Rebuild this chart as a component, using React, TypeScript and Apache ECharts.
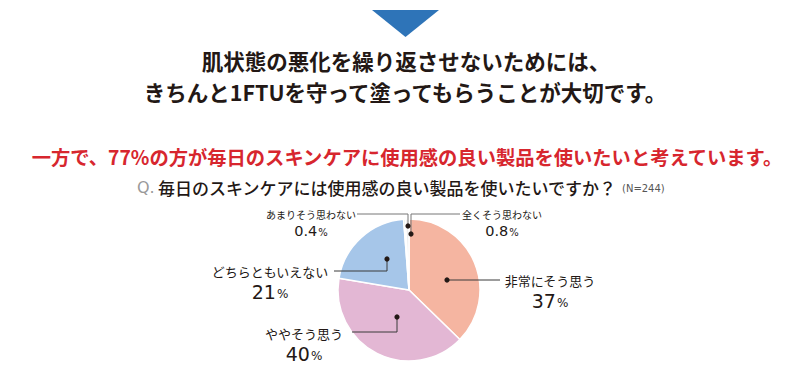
import React, { useEffect, useRef } from "react";
import * as echarts from "echarts";

const categories = ["非常にそう思う", "ややそう思う", "どちらともいえない", "あまりそう思わない", "全くそう思わない"];
const percentages = [37, 40, 21, 0.4, 0.8];
const sliceColors = ["#f5b5a1", "#e3b7d4", "#a6c6e9", "#b5dcbd", "#eeeeee"];

const titleLine1 = "肌状態の悪化を繰り返させないためには、";
const titleLine2 = "きちんと1FTUを守って塗ってもらうことが大切です。";
const redLine = "一方で、77%の方が毎日のスキンケアに使用感の良い製品を使いたいと考えています。";
const questionPrefix = "Q.";
const questionText = "毎日のスキンケアには使用感の良い製品を使いたいですか？";
const sampleNote = "(N=244)";

// label layout: [labelCenterX, labelTopY, dotX, dotY, bendX, bendY, endX, endY]
const labelLayouts = [
  [550, 270, 447, 280, 447, 280, 500, 280],
  [304, 323, 397, 317, 397, 332, 352, 332],
  [270, 261, 387, 259, 387, 271, 334, 271],
  [311, 206, 408, 226, 408, 214, 357, 214],
  [502, 206, 411, 234, 411, 214, 460, 214],
];
const leaderColors = ["#3a3a3a", "#3a3a3a", "#3a3a3a", "#777777", "#777777"];

const JP = '"Noto Sans CJK JP", "Noto Sans", sans-serif';
const NUM = '"DejaVu Sans", "Liberation Sans", sans-serif';

export default function App() {
  const ref = useRef<HTMLDivElement>(null);
  useEffect(() => {
    document.body.style.margin = "0";
    const chart = echarts.init(ref.current!, null, { renderer: "svg" });
    const leaders = labelLayouts.map((l, i) => ({
      type: "polyline",
      shape: { points: [[l[2], l[3]], [l[4], l[5]], [l[6], l[7]]] },
      style: { stroke: leaderColors[i], lineWidth: 1, fill: null },
      z: 99,
    }));
    const dots = labelLayouts.map((l) => ({
      type: "circle",
      shape: { cx: l[2], cy: l[3], r: 2.6 },
      style: { fill: "#231815" },
      z: 100,
    }));
    chart.setOption({
      animation: false,
      backgroundColor: "#ffffff",
      graphic: [
        {
          type: "polygon",
          shape: { points: [[372, 10], [439, 10], [405.5, 37]] },
          style: { fill: "#2e74b8" },
        },
        {
          type: "text",
          x: 406,
          y: 60,
          style: {
            text: titleLine1,
            fontSize: 21.5,
            fontWeight: "bold",
            fontFamily: JP,
            fill: "#231815",
            align: "center",
            verticalAlign: "middle",
          },
        },
        {
          type: "text",
          x: 405,
          y: 91,
          style: {
            text: titleLine2,
            fontSize: 21.5,
            fontWeight: "bold",
            fontFamily: JP,
            fill: "#231815",
            align: "center",
            verticalAlign: "middle",
          },
        },
        {
          type: "text",
          x: 407,
          y: 157,
          style: {
            text: redLine,
            fontSize: 19.3,
            fontWeight: "bold",
            fontFamily: JP,
            fill: "#d7262e",
            align: "center",
            verticalAlign: "middle",
          },
        },
        {
          type: "text",
          x: 137,
          y: 187,
          style: {
            text: `{q|${questionPrefix}} {t|${questionText}}{n|${sampleNote}}`,
            align: "left",
            verticalAlign: "middle",
            rich: {
              q: { fontSize: 16, fontFamily: NUM, fill: "#9a9a9a", color: "#9a9a9a" },
              t: { fontSize: 17, fontWeight: 500, fontFamily: JP, fill: "#231815", color: "#231815" },
              n: { fontSize: 10, fontFamily: NUM, fill: "#555555", color: "#555555", padding: [3, 0, 0, 5] },
            },
          },
        },
        ...leaders,
        ...dots,
      ],
      series: [
        {
          type: "pie",
          center: [409, 290],
          radius: 71,
          startAngle: 90,
          clockwise: true,
          data: categories.map((name, i) => ({
            name,
            value: percentages[i],
            itemStyle: { color: sliceColors[i] },
          })),
          itemStyle: { borderColor: "#ffffff", borderWidth: 1.5 },
          emphasis: { disabled: true },
          label: {
            show: true,
            position: "outside",
            formatter: (p: any) =>
              p.dataIndex >= 3
                ? `{ns|${p.name}}\n{vs|${p.value}}{ps|%}`
                : `{nb|${p.name}}\n{vb|${p.value}}{pb|%}`,
            align: "center",
            rich: {
              nb: { fontSize: 13, fontFamily: JP, color: "#231815", lineHeight: 20, align: "center" },
              vb: { fontSize: 19, fontFamily: NUM, color: "#231815", lineHeight: 22, align: "center" },
              pb: { fontSize: 12, fontFamily: NUM, color: "#231815", lineHeight: 22, padding: [3, 0, 0, 1] },
              ns: { fontSize: 10, fontFamily: JP, color: "#231815", lineHeight: 16, align: "center" },
              vs: { fontSize: 14.5, fontFamily: NUM, color: "#231815", lineHeight: 18, align: "center" },
              ps: { fontSize: 10, fontFamily: NUM, color: "#231815", lineHeight: 18, padding: [2, 0, 0, 1] },
            },
          },
          labelLine: { show: false },
          labelLayout: (params: any) => {
            const l = labelLayouts[params.dataIndex];
            return {
              x: l[0],
              y: l[1],
              align: "center",
              verticalAlign: "top",
            };
          },
        },
      ],
    });
    return () => chart.dispose();
  }, []);
  return <div ref={ref} style={{ width: 810, height: 381 }} />;
}
